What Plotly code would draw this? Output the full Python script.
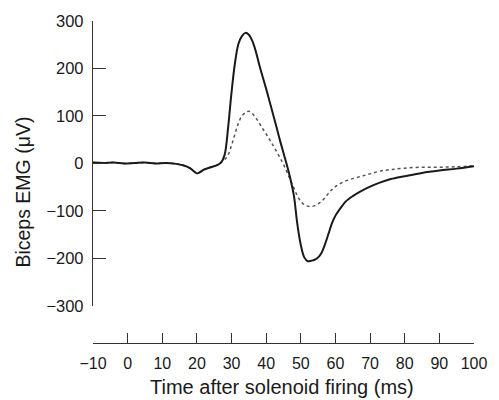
import plotly.graph_objects as go

# time (ms) and EMG (µV) for the solid trace
t_solid = [-10, -7, -4, -1, 2, 5, 8, 11, 14, 16, 18, 19, 20, 21, 22, 24, 26, 27, 28, 29, 30, 31, 32, 33, 34,
           35, 36, 37, 38, 39, 40, 41, 42, 43, 44, 45, 46, 47, 48, 49, 50, 51, 52, 53, 54, 55, 56,
           57, 58, 59, 60, 61, 62, 63, 65, 67, 70, 73, 76, 80, 85, 90, 95, 100]
v_solid = [2, 1, 2, 0, 1, 2, 0, 1, -1, -4, -10, -16, -21, -18, -13, -8, -3, 2, 18, 75, 150, 212, 252, 268, 275,
           271, 258, 236, 208, 182, 157, 130, 103, 76, 48, 22, -4, -33, -68, -128, -172, -198, -206, -205, -203, -198, -188,
           -170, -148, -126, -110, -99, -89, -80, -69, -60, -49, -40, -33, -27, -20, -15, -11, -6]

# time (ms) and EMG (µV) for the dotted trace
t_dot = [-10, -7, -4, -1, 2, 5, 8, 11, 14, 16, 18, 19, 20, 21, 22, 24, 26, 27, 28, 29, 30, 31, 32, 33, 34,
         35, 36, 37, 38, 39, 40, 41, 42, 43, 44, 45, 46, 47, 48, 49, 50, 51, 52, 53, 54, 55, 56,
         57, 58, 59, 60, 62, 65, 68, 70, 73, 76, 80, 85, 90, 95, 100]
v_dot = [2, 1, 2, 0, 1, 2, 0, 1, -1, -4, -10, -16, -21, -18, -13, -8, -3, 2, 8, 18, 38, 62, 85, 100, 107,
         110, 105, 96, 85, 73, 62, 50, 38, 25, 12, -2, -18, -35, -52, -68, -80, -87, -90, -91, -89, -85, -80,
         -72, -63, -55, -49, -40, -32, -26, -22, -16, -13, -10, -8, -8, -7, -5]

x_ticks = [-10, 0, 10, 20, 30, 40, 50, 60, 70, 80, 90, 100]
y_ticks = [-300, -200, -100, 0, 100, 200, 300]

FONT = "Liberation Sans, Arial, sans-serif"
AX = "#333333"

def lab(vals):
    return [str(v).replace("-", "\u2212") for v in vals]

fig = go.Figure()
fig.add_trace(go.Scatter(x=t_dot, y=v_dot, mode="lines",
                         line=dict(color="#555555", width=1.5, dash="dot", shape="spline"),
                         showlegend=False))
fig.add_trace(go.Scatter(x=t_solid, y=v_solid, mode="lines",
                         line=dict(color="#1a1a1a", width=2, shape="spline"),
                         showlegend=False))

fig.update_layout(
    width=499, height=400,
    margin=dict(l=93, r=24, t=14, b=57),
    plot_bgcolor="white", paper_bgcolor="white",
    font=dict(family=FONT, color="#1a1a1a", size=16),
    xaxis=dict(range=[-10, 100], tickvals=x_ticks, ticktext=lab(x_ticks),
               ticks="inside", ticklen=10, tickwidth=1.3,
               tickcolor=AX, showline=True, linecolor=AX, linewidth=1.3, showgrid=False,
               zeroline=False, anchor="free", position=0, ticklabelstandoff=6,
               tickfont=dict(size=16)),
    yaxis=dict(range=[-300, 300], tickvals=y_ticks, ticktext=lab(y_ticks),
               ticks="inside", ticklen=13, tickwidth=1.3,
               tickcolor=AX, showline=True, linecolor=AX, linewidth=1.3, showgrid=False,
               zeroline=False, domain=[0.1155, 1], tickfont=dict(size=16.5),
               ticklabelstandoff=5),
    annotations=[
        dict(text="Biceps EMG (\u03bcV)", xref="paper", yref="paper",
             x=-0.183, y=0.468, textangle=-90, showarrow=False,
             font=dict(size=19.5), xanchor="center", yanchor="middle"),
        dict(text="Time after solenoid firing (ms)", xref="paper", yref="paper",
             x=0.497, y=-0.1368, showarrow=False,
             font=dict(size=20), xanchor="center", yanchor="middle"),
    ],
)

fig.write_html("out.html")
